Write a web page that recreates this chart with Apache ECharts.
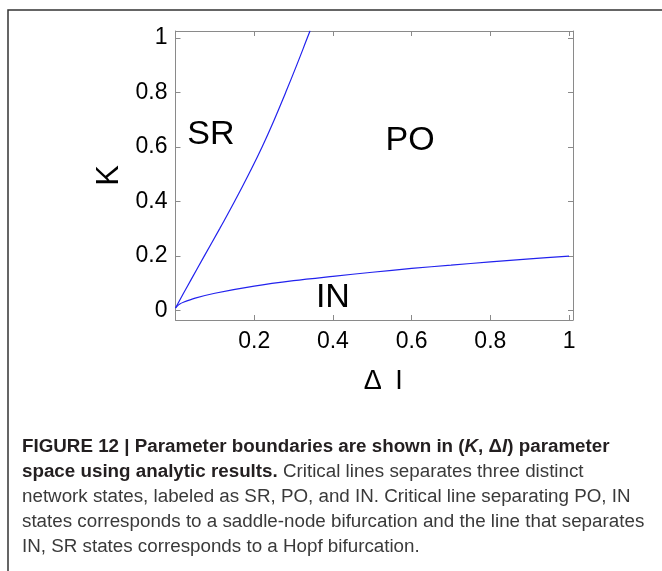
<!DOCTYPE html>
<html>
<head>
<meta charset="utf-8">
<script src="https://cdn.jsdelivr.net/npm/echarts@6/dist/echarts.min.js"></script>
<style>
html,body{margin:0;padding:0;background:#fff;}
#c{width:662px;height:571px;}
</style>
</head>
<body>
<div id="c"></div>
<script>
// ---- data ----
const hopfDI = [0, 0.02, 0.04, 0.073, 0.112, 0.150, 0.186, 0.220, 0.251, 0.280, 0.308, 0.335, 0.342];
const hopfK  = [0.01, 0.063, 0.115, 0.2, 0.3, 0.4, 0.5, 0.6, 0.7, 0.8, 0.9, 1.0, 1.026];
const saddleDI = [0, 0.005, 0.01, 0.02, 0.05, 0.1, 0.2, 0.3, 0.4, 0.5, 0.6, 0.7, 0.8, 0.9, 1.0];
const saddleK  = [0.01, 0.018, 0.024, 0.031, 0.046, 0.064, 0.09, 0.11, 0.126, 0.141, 0.155, 0.167, 0.179, 0.19, 0.2];
const regionNames = ['SR', 'PO', 'IN'];
const regionDI = [0.09, 0.596, 0.40];
const regionK  = [0.645, 0.623, 0.048];
const xTicks = [0.2, 0.4, 0.6, 0.8, 1];
const yTicks = [0, 0.2, 0.4, 0.6, 0.8, 1];
const captionLines = [
  [['b', 'FIGURE 12 | Parameter boundaries are shown in ('], ['bi', 'K'], ['b', ', \u0394'], ['bi', 'I'], ['b', ') parameter']],
  [['b', 'space using analytic results.'], ['r', ' Critical lines separates three distinct']],
  [['r', 'network states, labeled as SR, PO, and IN. Critical line separating PO, IN']],
  [['r', 'states corresponds to a saddle-node bifurcation and the line that separates']],
  [['r', 'IN, SR states corresponds to a Hopf bifurcation.']]
];

const FONT = '"Liberation Sans", Arial, sans-serif';
const CAPFONT = '"Liberation Sans", Arial, sans-serif';
const zip = (a, b) => a.map((v, i) => [v, b[i]]);
const fmt = v => String(v);

const chart = echarts.init(document.getElementById('c'), null, {renderer: 'canvas'});

const captionGraphics = captionLines.map((parts, i) => ({
  type: 'text',
  left: 22,
  top: 437 + i * 25,
  style: {
    text: parts.map(p => '{' + p[0] + '|' + p[1] + '}').join(''),
    rich: {
      b:  {fontFamily: CAPFONT, fontSize: 18.8, fontWeight: 'bold', fill: '#231f20'},
      bi: {fontFamily: CAPFONT, fontSize: 18.8, fontWeight: 'bold', fontStyle: 'italic', fill: '#231f20'},
      r:  {fontFamily: CAPFONT, fontSize: 18.8, fill: '#3a3a3a'}
    }
  }
}));

const axisCommon = {
  type: 'value',
  splitLine: {show: false},
  axisLine: {show: true, onZero: false, lineStyle: {color: '#8a8a8a', width: 1}},
  axisTick: {show: true, inside: true, length: 5, lineStyle: {color: '#8a8a8a', width: 1}}
};

chart.setOption({
  animation: false,
  backgroundColor: '#ffffff',
  grid: {left: 175.5, top: 31, right: 89, bottom: 251, containLabel: false},
  xAxis: [
    Object.assign({}, axisCommon, {
      position: 'bottom', min: 0, max: 1.01,
      name: '\u0394\u2002I', nameLocation: 'middle', nameGap: 48,
      nameTextStyle: {fontFamily: FONT, fontSize: 27, color: '#000', padding: [0, 0, 0, 18]},
      axisTick: Object.assign({}, axisCommon.axisTick, {customValues: xTicks}),
      axisLabel: {customValues: xTicks, formatter: fmt, margin: 10, fontFamily: FONT, fontSize: 23, color: '#000'}
    }),
    Object.assign({}, axisCommon, {
      position: 'top', min: 0, max: 1.01,
      axisTick: Object.assign({}, axisCommon.axisTick, {customValues: xTicks}),
      axisLabel: {show: false}
    })
  ],
  yAxis: [
    Object.assign({}, axisCommon, {
      position: 'left', min: -0.034, max: 1.025,
      name: 'K', nameLocation: 'middle', nameGap: 41, nameRotate: 90,
      nameTextStyle: {fontFamily: FONT, fontSize: 31, color: '#000'},
      axisTick: Object.assign({}, axisCommon.axisTick, {customValues: yTicks}),
      axisLabel: {customValues: yTicks, formatter: fmt, margin: 8, fontFamily: FONT, fontSize: 23, color: '#000'}
    }),
    Object.assign({}, axisCommon, {
      position: 'right', min: -0.034, max: 1.025,
      axisTick: Object.assign({}, axisCommon.axisTick, {customValues: yTicks}),
      axisLabel: {show: false}
    })
  ],
  series: [
    {
      type: 'line', xAxisIndex: 0, yAxisIndex: 0, data: zip(hopfDI, hopfK),
      smooth: 0.5, showSymbol: false, symbol: 'none', clip: true,
      lineStyle: {color: '#2222ee', width: 1.2}
    },
    {
      type: 'line', xAxisIndex: 0, yAxisIndex: 0, data: zip(saddleDI, saddleK),
      smooth: 0.3, showSymbol: false, symbol: 'none', clip: true,
      lineStyle: {color: '#2222ee', width: 1.2}
    },
    {
      type: 'scatter', xAxisIndex: 0, yAxisIndex: 0, symbolSize: 0,
      itemStyle: {opacity: 1},
      data: regionNames.map((n, i) => ({name: n, value: [regionDI[i], regionK[i]]})),
      label: {show: true, position: 'inside', formatter: p => p.name, opacity: 1,
              fontFamily: FONT, fontSize: 34, color: '#000000', textBorderWidth: 0}
    }
  ],
  graphic: [
    {type: 'polyline', shape: {points: [[8, 571], [8, 10], [662, 10]]},
     style: {stroke: '#333333', lineWidth: 1.5, fill: null}}
  ].concat(captionGraphics)
});
</script>
</body>
</html>
